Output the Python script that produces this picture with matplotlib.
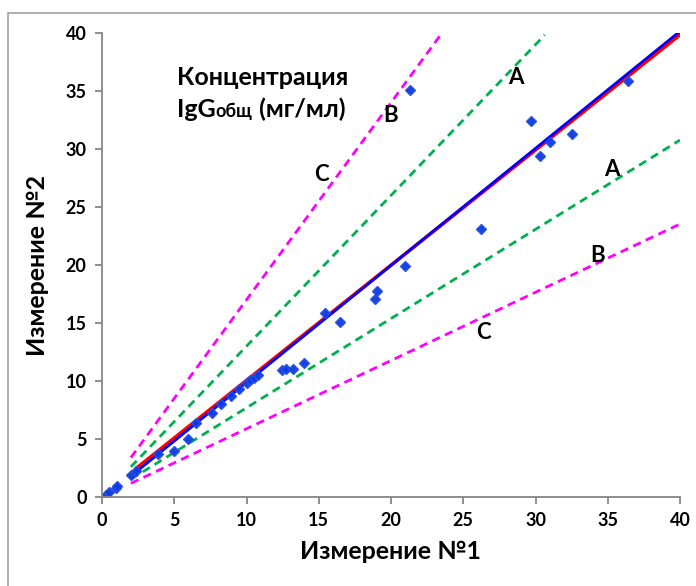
import numpy as np
import matplotlib
matplotlib.use("Agg")
import matplotlib.pyplot as plt
from matplotlib.patches import Rectangle

plt.rcParams['font.family'] = ['Lato', 'DejaVu Sans']

# measured pairs
meas1 = [0.3, 0.5, 0.95, 1.05, 2.0, 2.35, 3.85, 5.0, 5.95, 6.5, 7.6, 8.25, 8.9,
         9.5, 10.0, 10.25, 10.5, 10.8, 12.45, 12.7, 13.2, 14.0, 15.45, 16.5,
         18.9, 19.05, 21.0, 21.3, 26.25, 29.7, 30.3, 31.0, 32.5, 36.4]
meas2 = [0.2, 0.4, 0.8, 0.95, 1.9, 2.25, 3.7, 4.0, 5.0, 6.35, 7.2, 8.05, 8.7,
         9.3, 9.8, 10.1, 10.3, 10.5, 10.95, 11.0, 11.05, 11.55, 15.9, 15.05,
         17.05, 17.75, 19.9, 35.1, 23.1, 32.45, 29.4, 30.6, 31.3, 35.85]

# fitted lines (endpoints)
red_x = [2.4, 40]
red_y = [2.5, 39.85]
blue_x = [2.4, 39.85]
blue_y = [2.2, 40]

# limit lines y = k*x
x_lim = [2, 40]
k_A = 1.3
k_C = 1.7

fig = plt.figure(figsize=(6.96, 5.86), dpi=100)
fig.patches.append(Rectangle((8 / 696, -0.1), 1.2, (586 - 13) / 586 + 0.1,
                             transform=fig.transFigure, fill=False,
                             edgecolor='#a0a0a0', lw=1.2))
ax = fig.add_axes([102 / 696, 89 / 586, 578 / 696, 464 / 586])

xx = np.linspace(x_lim[0], x_lim[1], 200)
for k, c in [(k_C, '#ff00ff'), (k_A, '#00b050')]:
    m = xx * k <= 40
    ax.plot(xx[m], xx[m] * k, color=c, lw=2, ls=(0, (3, 2)))
    ax.plot(xx, xx / k, color=c, lw=2, ls=(0, (3, 2)))

ax.plot(red_x, red_y, color='#ff0000', lw=2.6)
ax.plot(blue_x, blue_y, color='#0000ff', lw=2)
ax.plot(meas1, meas2, ls='none', marker='D', ms=5.5, color='#0a3ae0',
        markeredgecolor='#2a50e8', alpha=0.95)

lab = dict(fontsize=16, fontweight='bold', ha='center', va='center')
ax.text(28.65, 36.2, 'A', **lab)
ax.text(20.0, 32.9, 'B', **lab)
ax.text(15.2, 27.8, 'C', **lab)
ax.text(35.3, 28.2, 'A', **lab)
ax.text(34.3, 20.8, 'B', **lab)
ax.text(26.4, 14.2, 'C', **lab)

ax.set_xlim(0, 40)
ax.set_ylim(0, 40)
ax.set_xticks(range(0, 41, 5))
ax.set_yticks(range(0, 41, 5))
for s in ['top', 'right']:
    ax.spines[s].set_visible(False)
for s in ['left', 'bottom']:
    ax.spines[s].set_color('#868686')
    ax.spines[s].set_linewidth(1.3)
ax.tick_params(length=5, width=1.3, color='#868686', labelsize=13, pad=6)
for t in ax.get_xticklabels() + ax.get_yticklabels():
    t.set_fontweight('bold')
ax.set_xlabel('Измерение №1', fontsize=18, fontweight='bold', labelpad=8)
ax.set_ylabel('Измерение №2', fontsize=18, fontweight='bold', labelpad=12)

# title block inside the plot
tx = 177 / 696
fig.text(tx, (586 - 85) / 586, 'Концентрация', fontsize=18, fontweight='bold',
         va='baseline')
fig.canvas.draw()
r = fig.canvas.get_renderer()
y2 = (586 - 117) / 586
t1 = fig.text(tx, y2, 'IgG', fontsize=18, fontweight='bold', va='baseline')
fig.canvas.draw()
x1 = t1.get_window_extent(r).x1 / fig.bbox.width
t2 = fig.text(x1, y2, 'общ', fontsize=13, fontweight='bold', va='baseline')
fig.canvas.draw()
x2 = t2.get_window_extent(r).x1 / fig.bbox.width
fig.text(x2, y2, ' (мг/мл)', fontsize=18, fontweight='bold', va='baseline')

fig.savefig('out.png', dpi=100)
